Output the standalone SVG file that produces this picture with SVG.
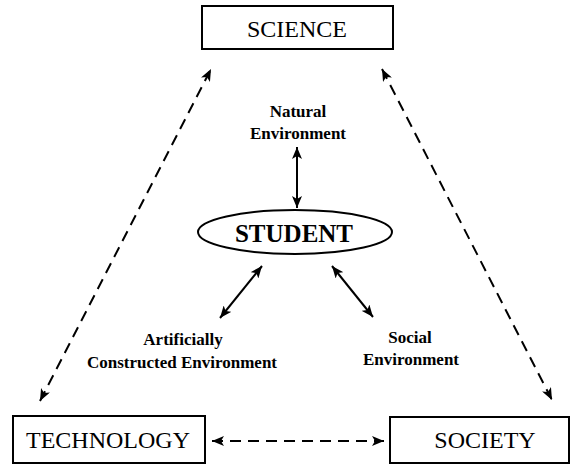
<svg xmlns="http://www.w3.org/2000/svg" width="571" height="465" viewBox="0 0 571 465">
<style>
.box{fill:#fff;stroke:#000;stroke-width:2}
.lbl{font-family:"Liberation Serif","Times New Roman",serif;font-size:24px;fill:#000;text-anchor:middle}
.env{font-family:"Liberation Serif","Times New Roman",serif;font-size:17px;font-weight:bold;fill:#000;text-anchor:middle}
.stu{font-family:"Liberation Serif","Times New Roman",serif;font-size:25px;font-weight:bold;fill:#000;text-anchor:middle}
.dash{fill:none;stroke:#000;stroke-width:2;stroke-dasharray:11 7;marker-start:url(#ah);marker-end:url(#ah)}
.solid{fill:none;stroke:#000;stroke-width:2;marker-start:url(#ah);marker-end:url(#ah)}
</style>
<defs>
<marker id="ah" viewBox="0 0 12 10" refX="12" refY="5" markerWidth="12" markerHeight="10" markerUnits="userSpaceOnUse" orient="auto-start-reverse">
<path d="M0,0 L12,5 L0,10 L3,5 z" fill="#000"/>
</marker>
</defs>
<g id="connectors">
<line class="dash" x1="40" y1="401" x2="211" y2="69"/>
<line class="dash" x1="382" y1="69" x2="552" y2="400"/>
<line class="dash" x1="212" y1="441" x2="384" y2="441"/>
<line class="solid" x1="297" y1="147" x2="297" y2="208"/>
<line class="solid" x1="262" y1="266" x2="220" y2="318"/>
<line class="solid" x1="332" y1="266" x2="373" y2="317"/>
</g>
<g id="science">
<rect class="box" x="202" y="6" width="191" height="43"/>
<text class="lbl" x="297" y="37">SCIENCE</text>
</g>
<g id="technology">
<rect class="box" x="13" y="416" width="192" height="47"/>
<text class="lbl" x="108" y="448">TECHNOLOGY</text>
</g>
<g id="society">
<rect class="box" x="390" y="417" width="179" height="46"/>
<text class="lbl" x="485" y="448">SOCIETY</text>
</g>
<g id="student">
<ellipse cx="295" cy="232" rx="97" ry="22" fill="#fff" stroke="#000" stroke-width="2"/>
<text class="stu" x="294" y="242">STUDENT</text>
</g>
<g id="natural">
<text class="env" x="298" y="117">Natural</text>
<text class="env" x="298" y="139">Environment</text>
</g>
<g id="artificial">
<text class="env" x="183" y="345">Artificially</text>
<text class="env" x="182" y="368">Constructed Environment</text>
</g>
<g id="social">
<text class="env" x="410" y="343">Social</text>
<text class="env" x="411" y="365">Environment</text>
</g>
</svg>
